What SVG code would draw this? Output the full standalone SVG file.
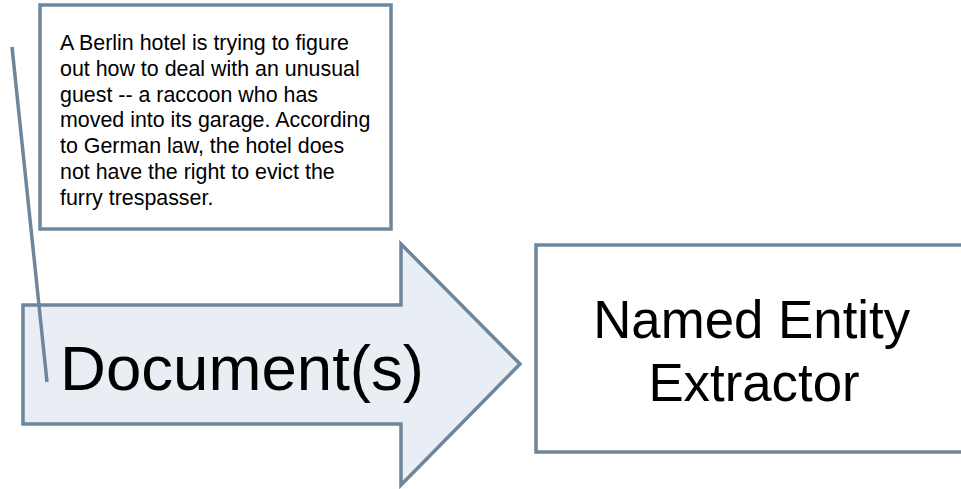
<svg xmlns="http://www.w3.org/2000/svg" width="961" height="489" viewBox="0 0 961 489">
<style>
.shape{stroke:#6e869c;stroke-width:3.5}
.t{font-family:"Liberation Sans",Arial,sans-serif;fill:#000}
</style>
<rect width="961" height="489" fill="#fff"/>
<g id="note">
<rect class="shape" x="40" y="5" width="351" height="224" fill="#fff"/>
<text class="t" font-size="21.4">
<tspan x="60" y="50">A Berlin hotel is trying to figure</tspan>
<tspan x="60" y="75.8">out how to deal with an unusual</tspan>
<tspan x="60" y="101.6">guest -- a raccoon who has</tspan>
<tspan x="60" y="127.4">moved into its garage. According</tspan>
<tspan x="60" y="153.2">to German law, the hotel does</tspan>
<tspan x="60" y="179">not have the right to evict the</tspan>
<tspan x="60" y="204.8">furry trespasser.</tspan>
</text>
</g>
<g id="documents">
<path class="shape" d="M23 305 H401 V244 L520 364 L401 485 V424 H23 Z" fill="#e9eef5"/>
<text class="t" x="60" y="390" font-size="63.6">Document(s)</text>
</g>
<g id="extractor">
<rect class="shape" x="536" y="245" width="440" height="207" fill="#fff"/>
<text class="t" font-size="52.8" text-anchor="middle">
<tspan x="759" y="338">Named Entity</tspan>
<tspan x="754" y="401">Extractor</tspan>
</text>
</g>
<g id="connectors">
<line class="shape" x1="12" y1="47" x2="47" y2="382" stroke-width="3"/>
</g>
</svg>
